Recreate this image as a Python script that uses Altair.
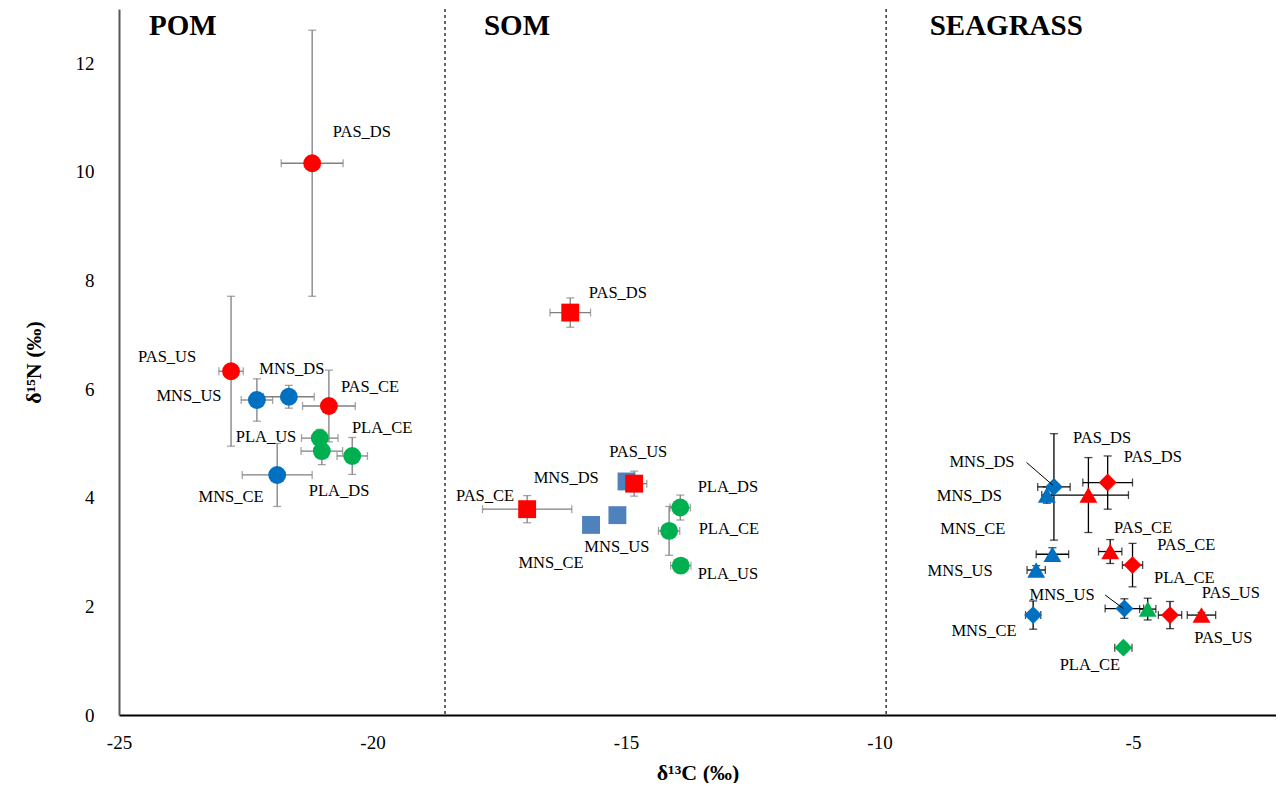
import altair as alt
import pandas as pd

# ---------------- data ----------------
group = ["POM"] * 9 + ["SOM"] * 9 + ["SEAGRASS"] * 14
station = [
    "PAS_US", "PAS_DS", "MNS_US", "MNS_DS", "PAS_CE", "PLA_US", "PLA_DS", "PLA_CE", "MNS_CE",
    "PAS_DS", "MNS_DS", "PAS_US", "PAS_CE", "MNS_US", "MNS_CE", "PLA_DS", "PLA_CE", "PLA_US",
    "MNS_DS", "MNS_DS", "PAS_DS", "PAS_DS", "MNS_CE", "MNS_US", "PAS_CE", "PAS_CE",
    "MNS_CE", "MNS_US", "PLA_CE", "PAS_US", "PAS_US", "PLA_CE",
]
series = (["circle"] * 9
          + ["square"] * 6 + ["circle"] * 3
          + ["diamond", "triangle", "triangle", "diamond", "triangle", "triangle", "triangle",
             "diamond", "diamond", "diamond", "triangle", "diamond", "triangle", "diamond"])
d13c = [
    -22.79, -21.19, -22.28, -21.65, -20.86, -21.04, -21.00, -20.40, -21.88,
    -16.10, -14.99, -14.84, -16.95, -15.17, -15.69, -13.93, -14.15, -13.92,
    -6.56, -6.70, -5.88, -5.50, -6.59, -6.91, -5.45, -5.01,
    -6.97, -5.17, -4.71, -4.27, -3.65, -5.19,
]
d15n = [
    6.33, 10.16, 5.80, 5.86, 5.69, 5.10, 4.86, 4.77, 4.42,
    7.41, 4.30, 4.26, 3.79, 3.68, 3.50, 3.82, 3.39, 2.75,
    4.20, 4.05, 4.05, 4.28, 2.96, 2.67, 3.01, 2.76,
    1.84, 1.96, 1.95, 1.84, 1.84, 1.24,
]
sd_c = [
    0.24, 0.61, 0.31, 0.50, 0.52, 0.36, 0.41, 0.30, 0.69,
    0.40, 0.0, 0.25, 0.88, 0.0, 0.0, 0.20, 0.21, 0.20,
    0.32, 0.10, 0.79, 0.49, 0.32, 0.18, 0.23, 0.20,
    0.15, 0.38, 0.16, 0.23, 0.28, 0.17,
]
sd_n = [
    1.38, 2.45, 0.39, 0.21, 0.66, 0.16, 0.25, 0.34, 0.58,
    0.27, 0.0, 0.23, 0.25, 0.0, 0.0, 0.23, 0.45, 0.05,
    0.98, 0.15, 0.69, 0.49, 0.12, 0.08, 0.22, 0.40,
    0.26, 0.18, 0.20, 0.25, 0.05, 0.08,
]

# point labels (as placed in the figure)
lab_text = [
    "PAS_DS", "PAS_US", "MNS_DS", "PAS_CE", "MNS_US", "PLA_US", "PLA_CE", "PLA_DS", "MNS_CE",
    "PAS_DS", "PAS_US", "MNS_DS", "PAS_CE", "PLA_DS", "PLA_CE", "MNS_US", "MNS_CE", "PLA_US",
    "PAS_DS", "PAS_DS", "MNS_DS", "MNS_DS", "MNS_CE", "PAS_CE", "PAS_CE", "MNS_US",
    "PLA_CE", "MNS_US", "PAS_US", "MNS_CE", "PAS_US", "PLA_CE",
]
lab_x = [
    -20.21, -24.05, -21.59, -20.05, -23.62, -22.10, -19.81, -20.66, -22.79,
    -15.16, -14.76, -16.18, -17.78, -12.99, -12.97, -15.18, -16.48, -12.99,
    -5.61, -4.61, -7.98, -8.23, -8.16, -4.80, -3.95, -8.41,
    -3.99, -6.40, -3.07, -7.94, -3.22, -5.85,
]
lab_y = [
    10.73, 6.59, 6.37, 6.04, 5.87, 5.12, 5.28, 4.12, 4.01,
    7.77, 4.84, 4.36, 4.03, 4.20, 3.42, 3.09, 2.80, 2.60,
    5.10, 4.75, 4.66, 4.03, 3.42, 3.44, 3.13, 2.65,
    2.52, 2.21, 2.25, 1.55, 1.42, 0.92,
]

# leader lines
lead_x = [-7.10, -5.55]
lead_x2 = [-6.58, -5.19]
lead_y = [4.65, 2.21]
lead_y2 = [4.23, 1.96]

# section titles and separators
sec_text = ["POM", "SOM", "SEAGRASS"]
sec_x = [-23.74, -17.15, -7.5]
sec_y = [12.68, 12.68, 12.68]
sep_x = [-18.57, -9.87]

# ---------------- build tables ----------------
site = [s.split("_")[0] for s in station]
ckey = [("MNS_SOM" if (g == "SOM" and s == "MNS") else s) for g, s in zip(group, site)]
pts = pd.DataFrame(dict(group=group, station=station, series=series, site=site, ckey=ckey,
                        x=d13c, y=d15n, ex=sd_c, ey=sd_n))
pts["xlo"] = pts.x - pts.ex
pts["xhi"] = pts.x + pts.ex
pts["ylo"] = pts.y - pts.ey
pts["yhi"] = pts.y + pts.ey

hcaps = pd.concat([
    pts.loc[pts.ex > 0, ["group", "xlo", "y"]].rename(columns={"xlo": "cx", "y": "cy"}),
    pts.loc[pts.ex > 0, ["group", "xhi", "y"]].rename(columns={"xhi": "cx", "y": "cy"}),
])
vcaps = pd.concat([
    pts.loc[pts.ey > 0, ["group", "x", "ylo"]].rename(columns={"x": "cx", "ylo": "cy"}),
    pts.loc[pts.ey > 0, ["group", "x", "yhi"]].rename(columns={"x": "cx", "yhi": "cy"}),
])
labels = pd.DataFrame(dict(t=lab_text, x=lab_x, y=lab_y))
leads = pd.DataFrame(dict(x=lead_x, x2=lead_x2, y=lead_y, y2=lead_y2))
secs = pd.DataFrame(dict(t=sec_text, x=sec_x, y=sec_y))
seps = pd.DataFrame(dict(x=sep_x))

FONT = "Liberation Serif"
xs = alt.Scale(domain=[-25, -2.18], nice=False, zero=False)
ys = alt.Scale(domain=[0, 13], nice=False, zero=False)

X = alt.X("x:Q", scale=xs, title="δ¹³C (‰)",
          axis=alt.Axis(values=[-25, -20, -15, -10, -5], grid=False, ticks=False,
                        domainColor="#000000", domainWidth=2, labelPadding=18,
                        labelFlush=False, labelExpr="'' + datum.value",
                        labelFont=FONT, labelFontSize=19, labelColor="#000",
                        titleFont=FONT, titleFontSize=22, titleFontWeight="bold",
                        titleColor="#000", titlePadding=10))
Y = alt.Y("y:Q", scale=ys, title="δ¹⁵N (‰)",
          axis=alt.Axis(values=[0, 2, 4, 6, 8, 10, 12], grid=False, ticks=False,
                        domainColor="#595959", domainWidth=2, labelPadding=25,
                        labelFlush=False,
                        labelFont=FONT, labelFontSize=19, labelColor="#000",
                        titleFont=FONT, titleFontSize=22, titleFontWeight="bold",
                        titleColor="#000", titlePadding=30))

base = alt.Chart(pts)

sep_layer = alt.Chart(seps).mark_rule(color="#000", strokeDash=[3, 3], strokeWidth=1.2).encode(
    x=alt.X("x:Q", scale=xs), y=alt.value(0), y2=alt.value(706))

def err_layers(grp, col):
    b = base.transform_filter(alt.datum.group == grp)
    hb = b.transform_filter(alt.datum.ex > 0).mark_rule(color=col, strokeWidth=1.3).encode(
        x=alt.X("xlo:Q", scale=xs), x2="xhi:Q", y=alt.Y("y:Q", scale=ys))
    vb = b.transform_filter(alt.datum.ey > 0).mark_rule(color=col, strokeWidth=1.3).encode(
        x=alt.X("x:Q", scale=xs), y=alt.Y("ylo:Q", scale=ys), y2="yhi:Q")
    hc = alt.Chart(hcaps).transform_filter(alt.datum.group == grp).mark_tick(
        orient="vertical", size=8, thickness=1.3, color=col).encode(
        x=alt.X("cx:Q", scale=xs), y=alt.Y("cy:Q", scale=ys))
    vc = alt.Chart(vcaps).transform_filter(alt.datum.group == grp).mark_tick(
        orient="horizontal", size=8, thickness=1.3, color=col).encode(
        x=alt.X("cx:Q", scale=xs), y=alt.Y("cy:Q", scale=ys))
    return [hb, vb, hc, vc]

errs = err_layers("POM", "#7f7f7f") + err_layers("SOM", "#7f7f7f") + err_layers("SEAGRASS", "#000000")

points = base.mark_point(filled=True, opacity=1, size=320, strokeWidth=0).encode(
    x=X, y=Y,
    shape=alt.Shape("series:N", legend=None,
                    scale=alt.Scale(domain=["circle", "square", "diamond", "triangle"],
                                    range=["circle", "square", "diamond", "triangle-up"])),
    color=alt.Color("ckey:N", legend=None,
                    scale=alt.Scale(domain=["PAS", "MNS", "PLA", "MNS_SOM"],
                                    range=["#FF0000", "#0070C0", "#00B050", "#4F81BD"])),
)

lead_layer = alt.Chart(leads).mark_rule(color="#000", strokeWidth=1).encode(
    x=alt.X("x:Q", scale=xs), x2="x2:Q", y=alt.Y("y:Q", scale=ys), y2="y2:Q")

lab_layer = alt.Chart(labels).mark_text(font=FONT, fontSize=16.5, color="#000",
                                        align="center", baseline="middle").encode(
    x=alt.X("x:Q", scale=xs), y=alt.Y("y:Q", scale=ys), text="t:N")

sec_layer = alt.Chart(secs).mark_text(font=FONT, fontSize=29, fontWeight="bold", color="#000",
                                      align="center", baseline="middle").encode(
    x=alt.X("x:Q", scale=xs), y=alt.Y("y:Q", scale=ys), text="t:N")

chart = alt.layer(sep_layer, *errs, points, lead_layer, lab_layer, sec_layer).properties(
    width=1157, height=706,
    autosize=alt.AutoSizeParams(type="none"),
    padding={"left": 111, "top": 1, "right": 0, "bottom": 68},
).configure(
    background="white",
    view=alt.ViewConfig(stroke="transparent", strokeWidth=0),
)

chart.save("out.html", embed_options={"renderer": "svg", "actions": False})
